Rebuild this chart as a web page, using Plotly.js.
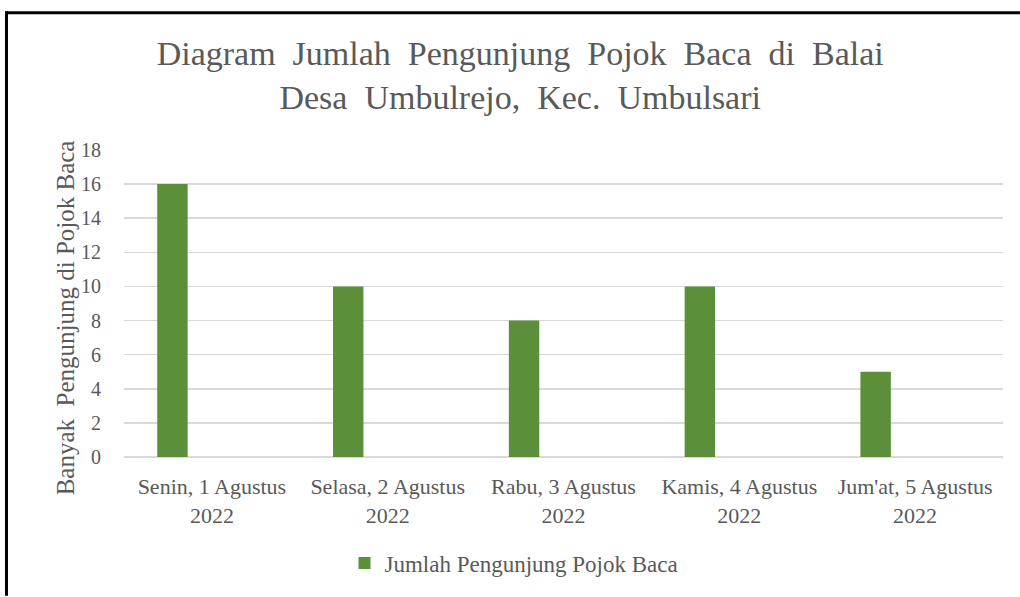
<!DOCTYPE html>
<html><head><meta charset="utf-8">
<script src="https://cdn.plot.ly/plotly-3.0.1.min.js"></script>
<style>html,body{margin:0;padding:0;background:#fff}#c{width:1020px;height:597px}</style>
</head><body><div id="c"></div>
<script>
var categories = ["Senin, 1 Agustus<br>2022", "Selasa, 2 Agustus<br>2022", "Rabu, 3 Agustus<br>2022", "Kamis, 4 Agustus<br>2022", "Jum'at, 5 Agustus<br>2022"];
var visitors = [16, 10, 8, 10, 5];
var seriesName = "Jumlah Pengunjung Pojok Baca";
var yTicks = [0, 2, 4, 6, 8, 10, 12, 14, 16, 18];
var yTitle = "Banyak  Pengunjung di Pojok Baca";

var W = 1020, H = 597, L = 124, R = 17, T = 150, B = 137;
var pw = W - L - R, ph = H - T - B;
function px(x){ return (x - L) / pw; }
function py(y){ return (H - B - y) / ph; }

var font = "'Liberation Serif', serif";
var grey = '#595959';
var trace = {
  type: 'bar', x: categories, y: visitors, name: seriesName,
  marker: {color: '#5b8f3a'}, width: 0.173, offset: -0.311
};
var layout = {
  width: W, height: H,
  margin: {l: L, r: R, t: T, b: B, pad: 0},
  paper_bgcolor: '#fff', plot_bgcolor: '#fff',
  font: {family: font, color: grey, size: 20},
  title: {text: 'Diagram  Jumlah  Pengunjung  Pojok  Baca  di  Balai<br>Desa  Umbulrejo,  Kec.  Umbulsari',
          font: {family: font, size: 34, color: grey}, x: 0.51, xanchor: 'center', y: 0.891, yanchor: 'middle'},
  showlegend: true,
  legend: {orientation: 'h', x: px(514), xanchor: 'center', y: py(567), yanchor: 'middle',
           font: {family: font, size: 23, color: grey}, itemwidth: 30},
  xaxis: {type: 'category', range: [-0.5, 4.5], showgrid: false, zeroline: false,
          showline: false, ticks: '', ticklabelstandoff: 14,
          tickfont: {family: font, size: 22, color: grey}, fixedrange: true},
  yaxis: {range: [0, 18], tickvals: yTicks, ticktext: yTicks.map(String), showgrid: true,
          gridcolor: '#d9d9d9', gridwidth: 1.5, zeroline: true, zerolinecolor: '#d9d9d9', zerolinewidth: 1.5,
          ticks: '', ticklabelstandoff: 22, tickfont: {family: font, size: 20, color: grey}, fixedrange: true},
  annotations: [
    {text: yTitle, xref: 'paper', yref: 'paper', x: px(65), y: py(320), xanchor: 'center', yanchor: 'middle',
     textangle: -90, showarrow: false, font: {family: font, size: 25, color: grey}}
  ],
  shapes: [
    {type: 'line', xref: 'paper', yref: 'paper', x0: px(5), x1: px(1025), y0: py(11.5), y1: py(11.5), line: {color: '#000', width: 3}},
    {type: 'line', xref: 'paper', yref: 'paper', x0: px(6.5), x1: px(6.5), y0: py(10), y1: py(600), line: {color: '#000', width: 3}}
  ]
};
Plotly.newPlot('c', [trace], layout, {displayModeBar: false, staticPlot: true});
</script></body></html>
